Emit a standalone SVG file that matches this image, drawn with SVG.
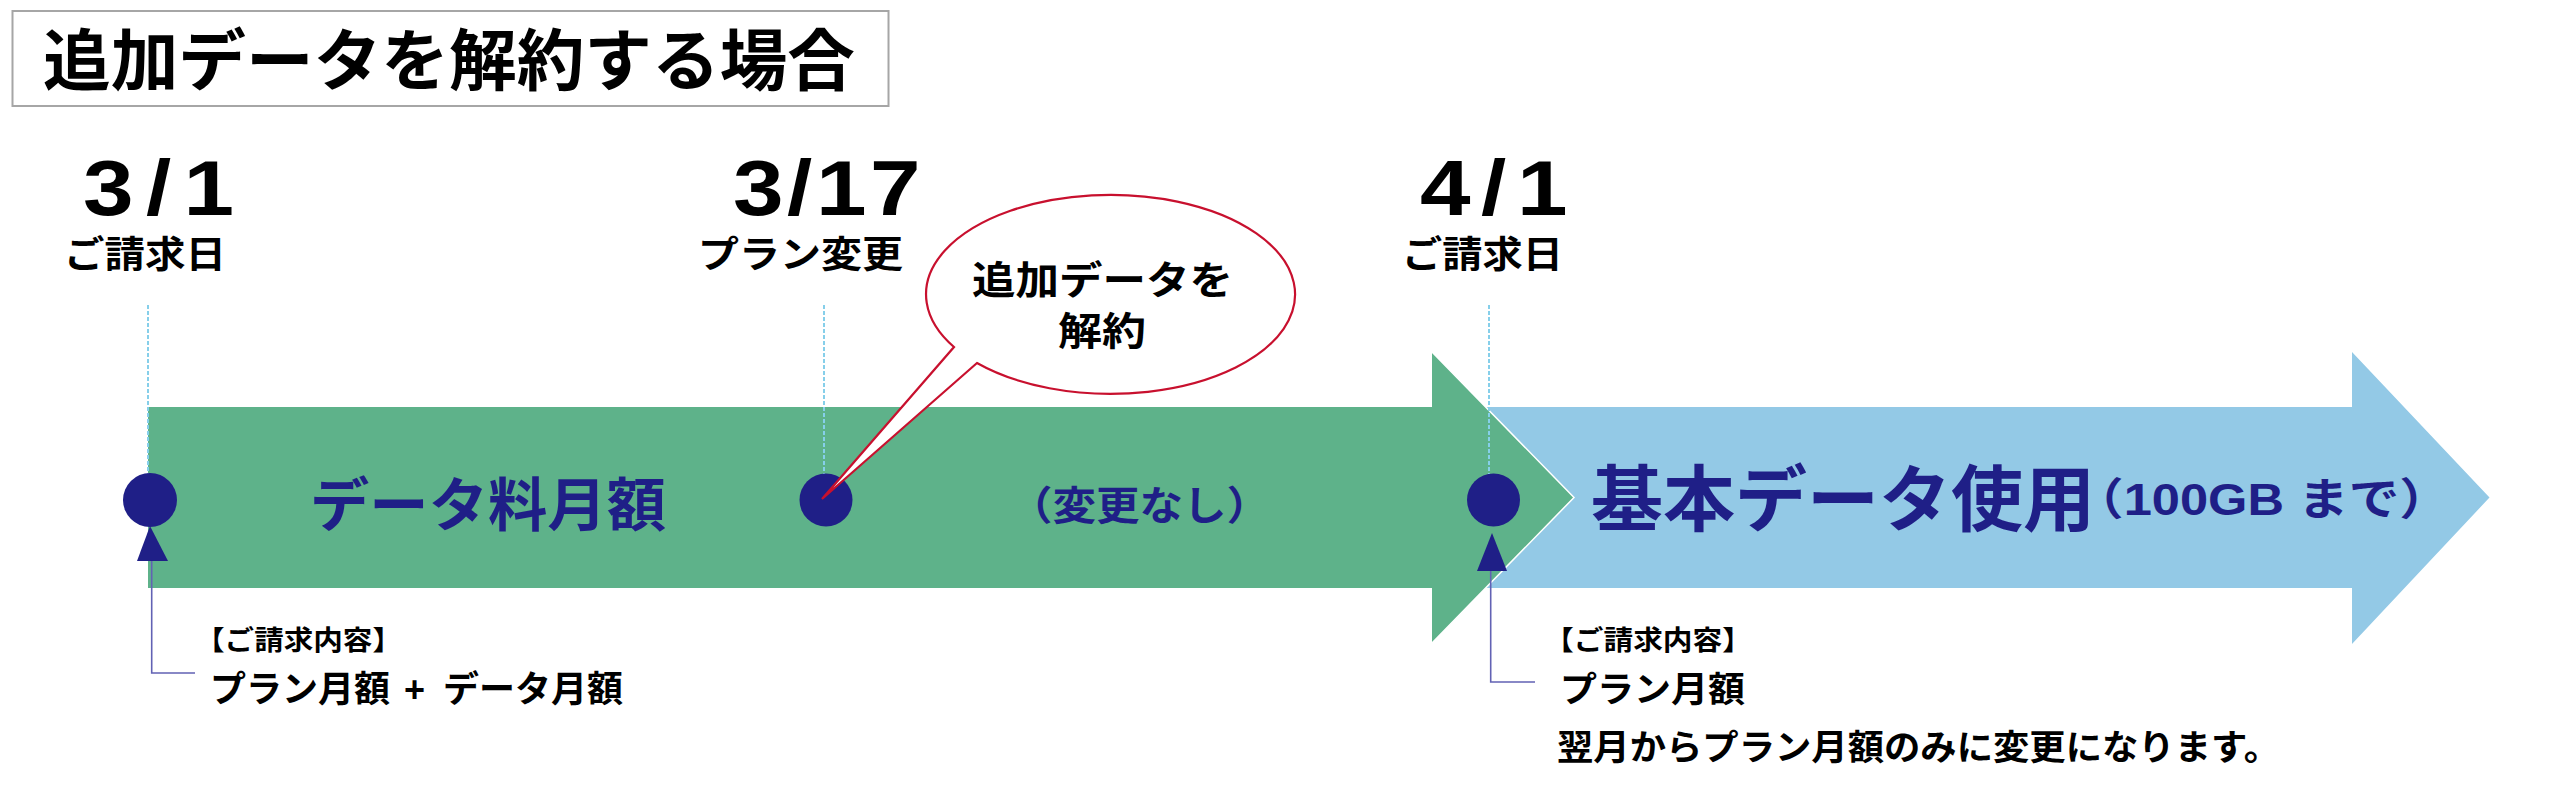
<svg xmlns="http://www.w3.org/2000/svg" width="2560" height="791" viewBox="0 0 2560 791">
<style>
.jp{font-family:"Liberation Sans","Noto Sans CJK JP","Noto Sans CJK SC",sans-serif;font-weight:700}
.date{font-family:"Liberation Sans",Arial,sans-serif;font-weight:700;font-size:77px;fill:#000}
.blk{fill:#000}
.navy{fill:#1f1f87}
.dash{stroke:#86cfea;stroke-width:2;stroke-dasharray:4 2;fill:none}
.call{stroke:#6262b4;stroke-width:1.6;fill:none}
.dot{fill:#1f1f87}
</style>
<rect width="2560" height="791" fill="#fff"/>

<g id="title">
<rect x="12.5" y="11" width="876" height="95" fill="#fff" stroke="#a6a6a6" stroke-width="2"/>
<text class="jp blk" x="43" y="85" font-size="67" textLength="812" lengthAdjust="spacingAndGlyphs">追加データを解約する場合</text>
</g>

<g id="arrow-basic">
<path d="M1470,407 H2352 V352 L2489.5,497.5 L2352,644 V588 H1470 Z" fill="#93c9e6"/>
<text class="jp navy" x="1591" y="525" font-size="72" textLength="504" lengthAdjust="spacingAndGlyphs">基本データ使用</text>
<text class="jp navy" x="2073" y="515" font-size="44" textLength="377" lengthAdjust="spacingAndGlyphs">（100GB まで）</text>
</g>

<g id="arrow-data">
<path d="M148,407 H1432 V352 L1574,497.5 L1432,643 V588 H148 Z" fill="#5eb28a"/>
<polyline points="1432,352 1574,497.5 1432,643" fill="none" stroke="#fff" stroke-width="1.5"/>
<text class="jp navy" x="310" y="526" font-size="58" textLength="356" lengthAdjust="spacingAndGlyphs">データ料月額</text>
<text class="jp navy" x="1009" y="520" font-size="40" textLength="261" lengthAdjust="spacingAndGlyphs">（変更なし）</text>
</g>

<g id="date-0301">
<text class="date" transform="translate(83,215) scale(1.18,1)" x="0" y="0" textLength="128" lengthAdjust="spacing">3/1</text>
<text class="jp blk" x="64" y="267.5" font-size="37" textLength="162" lengthAdjust="spacingAndGlyphs">ご請求日</text>
</g>
<g id="date-0317">
<text class="date" transform="translate(733,215) scale(1.18,1)" x="0" y="0" textLength="159" lengthAdjust="spacing">3/17</text>
<text class="jp blk" x="698" y="267.5" font-size="37" textLength="205" lengthAdjust="spacingAndGlyphs">プラン変更</text>
</g>
<g id="date-0401">
<text class="date" transform="translate(1420,215) scale(1.18,1)" x="0" y="0" textLength="125" lengthAdjust="spacing">4/1</text>
<text class="jp blk" x="1402" y="267.5" font-size="37" textLength="161" lengthAdjust="spacingAndGlyphs">ご請求日</text>
</g>

<g id="connectors">
<line class="dash" x1="148" y1="305" x2="148" y2="474"/>
<line class="dash" x1="824" y1="305" x2="824" y2="474"/>
<line class="dash" x1="1489" y1="305" x2="1489" y2="474"/>
<polyline class="call" points="151.7,561 151.7,673 195,673"/>
<polyline class="call" points="1490.7,571 1490.7,682 1535,682" stroke="#8a8ad0"/>
<polygon class="dot" points="150,526 137,561 168,561"/>
<polygon class="dot" points="1492,533 1477,571 1507,571"/>
</g>

<g id="point-0301"><circle class="dot" cx="150" cy="500" r="27"/></g>
<g id="point-0317"><circle class="dot" cx="826" cy="500" r="26.5"/></g>
<g id="point-0401"><circle class="dot" cx="1493.5" cy="500" r="26.5"/></g>

<g id="bubble">
<path d="M977,363 L822,499 L954,347 A184.5 99.5 0 1 1 977,363 Z" fill="#fff" stroke="#c8102e" stroke-width="2.2" stroke-linejoin="miter"/>
<text class="jp blk" x="972" y="294" font-size="39" textLength="261" lengthAdjust="spacingAndGlyphs">追加データを</text>
<text class="jp blk" x="1058" y="345" font-size="39" textLength="88" lengthAdjust="spacingAndGlyphs">解約</text>
</g>

<g id="billing-0301">
<text class="jp blk" x="195" y="650" font-size="27" textLength="207" lengthAdjust="spacingAndGlyphs">【ご請求内容】</text>
<text class="jp blk" y="702" font-size="36"><tspan x="210">プラン月額</tspan><tspan x="404">+</tspan><tspan x="443">データ月額</tspan></text>
</g>
<g id="billing-0401">
<text class="jp blk" x="1544" y="650" font-size="27" textLength="208" lengthAdjust="spacingAndGlyphs">【ご請求内容】</text>
<text class="jp blk" x="1560" y="702" font-size="35" textLength="185" lengthAdjust="spacingAndGlyphs">プラン月額</text>
<text class="jp blk" x="1557" y="760" font-size="35" textLength="723" lengthAdjust="spacingAndGlyphs">翌月からプラン月額のみに変更になります。</text>
</g>
</svg>
